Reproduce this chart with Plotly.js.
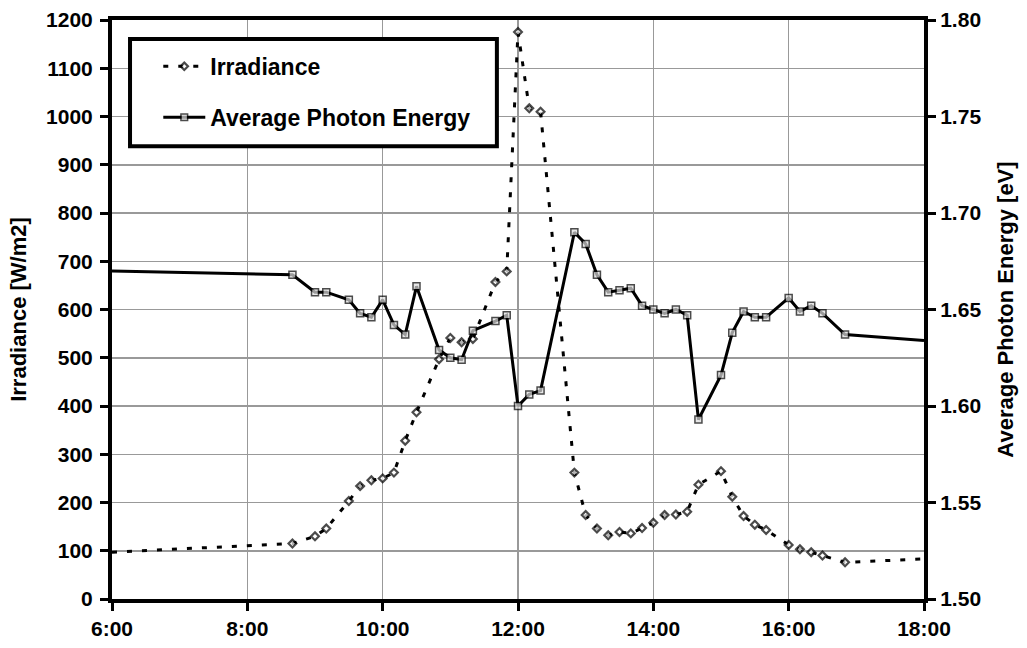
<!DOCTYPE html>
<html>
<head>
<meta charset="utf-8">
<script src="https://cdn.plot.ly/plotly-3.0.1.min.js"></script>
<style>html,body{margin:0;padding:0;background:#fff}#chart{width:1027px;height:648px}</style>
</head>
<body>
<div id="chart"></div>
<script>
var times = ["6:00","8:40","9:00","9:10","9:30","9:40","9:50","10:00","10:10","10:20","10:30","10:50","11:00","11:10","11:20","11:40","11:50","12:00","12:10","12:20","12:50","13:00","13:10","13:20","13:30","13:40","13:50","14:00","14:10","14:20","14:30","14:40","15:00","15:10","15:20","15:30","15:40","16:00","16:10","16:20","16:30","16:50","18:00"];
var irradiance = [97,115,130,146,203,234,246,250,262,328,387,497,541,532,539,657,679,1175,1017,1010,262,174,146,132,139,136,147,158,174,175,181,237,265,212,172,154,143,112,103,97,90,76,83];
var photonEnergy = [1.670,1.668,1.659,1.659,1.655,1.648,1.646,1.655,1.642,1.637,1.662,1.629,1.625,1.624,1.639,1.644,1.647,1.600,1.606,1.608,1.690,1.684,1.668,1.659,1.660,1.661,1.652,1.650,1.648,1.650,1.647,1.593,1.616,1.638,1.649,1.646,1.646,1.656,1.649,1.652,1.648,1.637,1.634];
var xTickVals = [6,8,10,12,14,16,18];
var xTickText = ["6:00","8:00","10:00","12:00","14:00","16:00","18:00"];

function toHours(s){var p=s.split(":");return +p[0] + (+p[1])/60;}
var x = times.map(toHours);
function sizes(sz){return x.map(function(v,i){return (i===0||i===x.length-1)?0:sz;});}

var font = {family:"Liberation Sans, Arial, sans-serif", color:"#000", weight:"bold"};
function f(sz){return Object.assign({}, font, {size:sz});}

var traces = [
  {x:x, y:irradiance, name:"Irradiance", type:"scatter", mode:"lines+markers",
   legendgroup:"a",
   line:{color:"#000", width:3, dash:"5px,10px"},
   marker:{symbol:"diamond", size:sizes(6), color:"#fff", line:{color:"#000", width:2.2}}},
  {x:x, y:photonEnergy, name:"Average Photon Energy", type:"scatter", mode:"lines+markers",
   yaxis:"y2", legendgroup:"b",
   line:{color:"#000", width:3},
   marker:{symbol:"square", size:sizes(7), color:"#ddd", line:{color:"#000", width:1.5}}}
];

var layout = {
  width:1027, height:648,
  margin:{l:112, r:103, t:20, b:49},
  paper_bgcolor:"#fff", plot_bgcolor:"#fff",
  showlegend:true,
  legend:{x:0.057, y:0.957, xanchor:"left", yanchor:"top", bgcolor:"rgba(0,0,0,0)",
          borderwidth:0, font:f(23), itemwidth:42, traceorder:"grouped", tracegroupgap:18},
  xaxis:{range:[6,18], tickvals:xTickVals, ticktext:xTickText, tickfont:f(21),
         showgrid:true, gridcolor:"#999", gridwidth:1.5, zeroline:false,
         showline:true, linecolor:"#000", linewidth:4, mirror:true,
         ticks:"outside", ticklen:8, tickwidth:3, tickcolor:"#000"},
  yaxis:{range:[0,1200], dtick:100, tickfont:f(21), ticklabelstandoff:3,
         title:{text:"Irradiance [W/m2]", font:f(22), standoff:14},
         showgrid:true, gridcolor:"#999", gridwidth:1.5, zeroline:false,
         showline:true, linecolor:"#000", linewidth:4,
         ticks:"outside", ticklen:8, tickwidth:3, tickcolor:"#000"},
  yaxis2:{range:[1.5,1.8], dtick:0.05, tickformat:".2f", tickfont:f(21), overlaying:"y", side:"right",
          title:{text:"Average Photon Energy [eV]", font:f(22), standoff:18},
          showgrid:false, zeroline:false,
          showline:true, linecolor:"#000", linewidth:4,
          ticks:"outside", ticklen:8, tickwidth:3, tickcolor:"#000"},
  shapes:[{type:"rect", xref:"paper", yref:"paper", x0:0.0222, x1:0.474, y0:0.782, y1:0.967,
           line:{color:"#000", width:4}, fillcolor:"#fff", layer:"above"}]
};

Plotly.newPlot("chart", traces, layout, {displayModeBar:false, staticPlot:true});
</script>
</body>
</html>
